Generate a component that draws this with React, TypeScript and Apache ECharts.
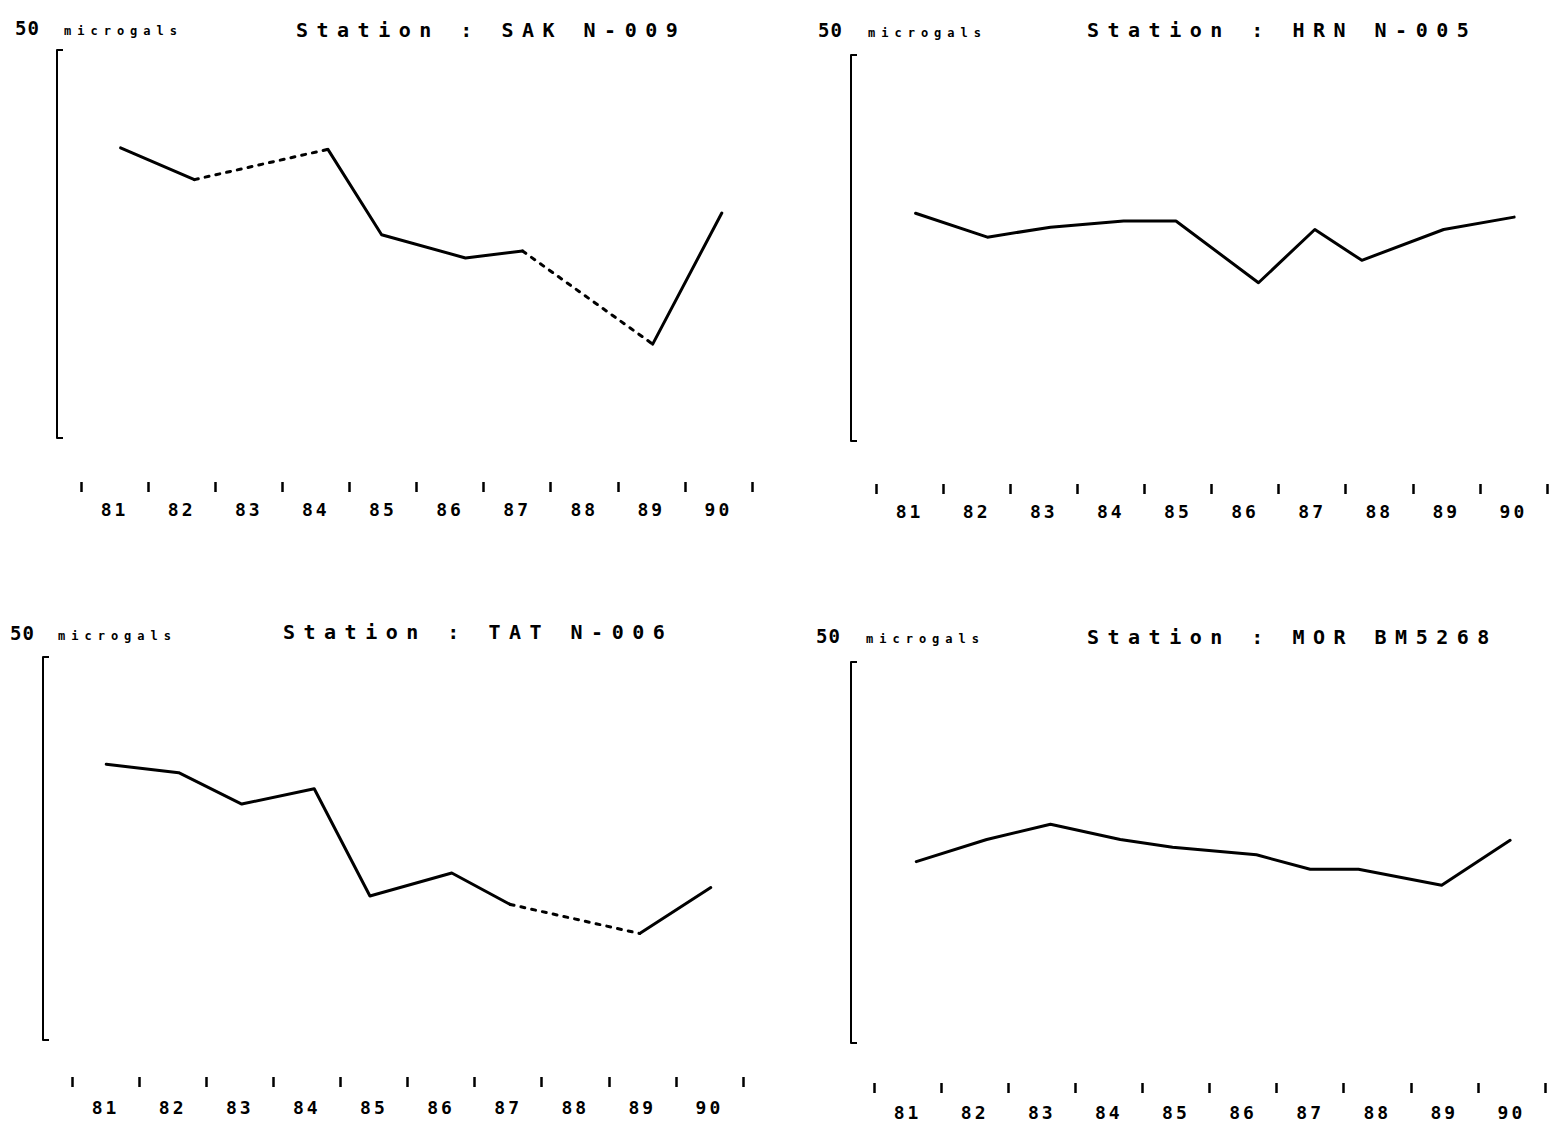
import React, { useEffect, useRef } from "react";
import * as echarts from "echarts";

// ---- data (years as fractional 19xx, values in microgals, relative) ----
const yearLabels = ["81", "82", "83", "84", "85", "86", "87", "88", "89", "90"];

const sakTitle = "Station : SAK N-009";
const sakYears = [81.59, 82.69, 84.68, 85.48, 86.73, 87.58, 89.52, 90.55];
const sakValues = [37.4, 33.3, 37.2, 26.2, 23.2, 24.1, 12.1, 29.0];
const sakDashed = [false, true, false, false, false, true, false];

const hrnTitle = "Station : HRN N-005";
const hrnYears = [81.59, 82.66, 83.6, 84.69, 85.47, 86.7, 87.54, 88.24, 89.46, 90.51];
const hrnValues = [29.5, 26.4, 27.7, 28.5, 28.5, 20.5, 27.4, 23.4, 27.4, 29.0];
const hrnDashed = [false, false, false, false, false, false, false, false, false];

const tatTitle = "Station : TAT N-006";
const tatYears = [81.51, 82.59, 83.53, 84.61, 85.44, 86.66, 87.53, 89.46, 90.52];
const tatValues = [36.0, 34.9, 30.8, 32.8, 18.8, 21.8, 17.7, 13.9, 19.9];
const tatDashed = [false, false, false, false, false, false, true, false];

const morTitle = "Station : MOR BM5268";
const morYears = [81.63, 82.68, 83.63, 84.67, 85.45, 86.7, 87.5, 88.22, 89.46, 90.48];
const morValues = [23.8, 26.7, 28.7, 26.7, 25.7, 24.7, 22.8, 22.8, 20.7, 26.6];
const morDashed = [false, false, false, false, false, false, false, false, false];

const scaleNumber = "50";
const scaleUnit = "microgals";

// ---- layout ----
const panels = [
  { title: sakTitle, years: sakYears, values: sakValues, dashed: sakDashed,
    left: 81, top: 50, height: 388, bracketX: 57, tickOffset: 44, labelMargin: 18,
    titleX: 296, titleY: 30, numX: 15, numY: 28, unitX: 64 },
  { title: hrnTitle, years: hrnYears, values: hrnValues, dashed: hrnDashed,
    left: 876, top: 55, height: 386, bracketX: 851, tickOffset: 43, labelMargin: 18,
    titleX: 1087, titleY: 30, numX: 818, numY: 30, unitX: 868 },
  { title: tatTitle, years: tatYears, values: tatValues, dashed: tatDashed,
    left: 72, top: 657, height: 383, bracketX: 43, tickOffset: 37, labelMargin: 21,
    titleX: 283, titleY: 632, numX: 10, numY: 633, unitX: 58 },
  { title: morTitle, years: morYears, values: morValues, dashed: morDashed,
    left: 874, top: 662, height: 381, bracketX: 851, tickOffset: 40, labelMargin: 20,
    titleX: 1087, titleY: 637, numX: 816, numY: 636, unitX: 866 },
];

const MONO = "'DejaVu Sans Mono', 'Liberation Mono', monospace";

function buildOption() {
  const grid: any[] = [];
  const xAxis: any[] = [];
  const yAxis: any[] = [];
  const series: any[] = [];
  const graphic: any[] = [];

  panels.forEach((p, i) => {
    grid.push({ left: p.left, top: p.top, width: 671, height: p.height });
    // visible category axis: ticks at year boundaries, labels at mid-year
    xAxis.push({
      type: "category", gridIndex: i, data: yearLabels, boundaryGap: true,
      position: "bottom", offset: p.tickOffset,
      axisLine: { show: false, onZero: false },
      axisTick: { show: true, interval: 0, length: 10, lineStyle: { color: "#000", width: 2.5 } },
      axisLabel: { interval: 0, margin: p.labelMargin, fontSize: 18, fontWeight: "bold", fontFamily: MONO, color: "#000" },
      splitLine: { show: false },
    });
    // hidden value axis for data
    xAxis.push({
      type: "value", gridIndex: i, min: 81, max: 91, position: "top", show: false,
      axisLine: { onZero: false },
      splitLine: { show: false },
    });
    yAxis.push({
      type: "value", gridIndex: i, min: 0, max: 50, interval: 50,
      position: "left", offset: p.left - p.bracketX,
      axisLine: { show: true, onZero: false, lineStyle: { color: "#000", width: 2 } },
      axisTick: { show: true, inside: true, length: 6, lineStyle: { color: "#000", width: 2 } },
      axisLabel: { show: false }, splitLine: { show: false },
    });

    // split into runs of solid / dashed segments
    let runStart = 0;
    for (let s = 0; s < p.dashed.length; s++) {
      const last = s === p.dashed.length - 1;
      if (last || p.dashed[s + 1] !== p.dashed[s]) {
        const pts: number[][] = [];
        for (let k = runStart; k <= s + 1; k++) pts.push([p.years[k], p.values[k]]);
        const dashed = p.dashed[s];
        series.push({
          type: "line", xAxisIndex: i * 2 + 1, yAxisIndex: i, data: pts,
          showSymbol: false, symbol: "none", silent: true,
          lineStyle: dashed
            ? { color: "#000", width: 3, type: [4, 7], cap: "round" }
            : { color: "#000", width: 3, type: "solid", cap: "round", join: "round" },
        });
        runStart = s + 1;
      }
    }

    graphic.push({
      type: "text", x: p.titleX, y: p.titleY,
      style: { text: p.title, font: `bold 20px ${MONO}`, fill: "#000", align: "left", verticalAlign: "middle", textAlign: "left", textVerticalAlign: "middle" },
    });
    graphic.push({
      type: "text", x: p.numX, y: p.numY,
      style: { text: scaleNumber, font: `bold 19px ${MONO}`, fill: "#000", align: "left", verticalAlign: "middle", textAlign: "left", textVerticalAlign: "middle" },
    });
    graphic.push({
      type: "text", x: p.unitX, y: p.numY + 3,
      style: { text: scaleUnit, font: `bold 12px ${MONO}`, fill: "#000", align: "left", verticalAlign: "middle", textAlign: "left", textVerticalAlign: "middle" },
    });
  });

  return { animation: false, backgroundColor: "#fff", grid, xAxis, yAxis, series, graphic };
}

export default function App() {
  const ref = useRef<HTMLDivElement>(null);
  useEffect(() => {
    document.body.style.margin = "0";
    if (!ref.current) return;
    const chart = echarts.init(ref.current, undefined, { renderer: "svg" });
    chart.setOption(buildOption() as any);
    return () => chart.dispose();
  }, []);
  return (
    <>
      <style>{`
        #chart text[style*="20px"] { letter-spacing: 8.5px; }
        #chart text[style*="18px"] { letter-spacing: 3px; }
        #chart text[style*="12px"] { letter-spacing: 6px; }
        #chart text[style*="19px"] { letter-spacing: 1px; }
      `}</style>
      <div id="chart" ref={ref} style={{ width: 1551, height: 1131, background: "#fff" }} />
    </>
  );
}
